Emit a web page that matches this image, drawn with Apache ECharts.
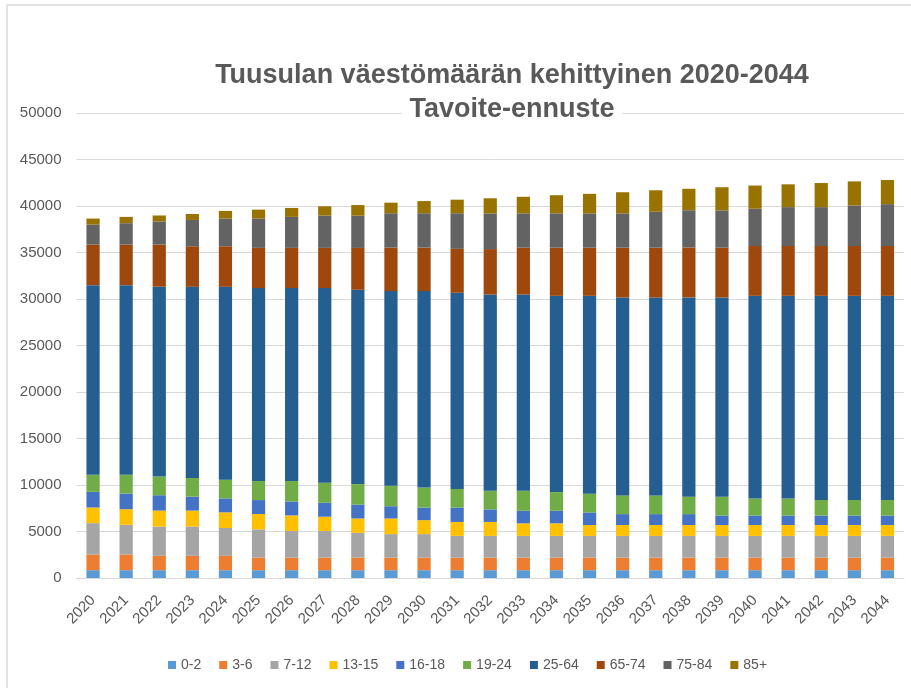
<!DOCTYPE html>
<html>
<head>
<meta charset="utf-8">
<script src="https://cdn.jsdelivr.net/npm/echarts@6/dist/echarts.min.js"></script>
<style>
html,body{margin:0;padding:0;background:#fff;}
#chart{width:911px;height:688px;}
</style>
</head>
<body>
<div id="chart"></div>
<script>
var years = ['2020','2021','2022','2023','2024','2025','2026','2027','2028','2029','2030','2031','2032','2033','2034','2035','2036','2037','2038','2039','2040','2041','2042','2043','2044'];
var seriesNames = ['0-2','3-6','7-12','13-15','16-18','19-24','25-64','65-74','75-84','85+'];
var yTicks = [0, 50000, 5000];

var a0_2   = [840,840,840,840,840,840,840,840,840,840,840,840,840,840,840,840,840,840,840,840,840,840,840,840,840];
var a3_6   = [1690,1690,1540,1540,1540,1350,1350,1350,1350,1350,1350,1350,1350,1350,1350,1350,1350,1350,1350,1350,1350,1350,1350,1350,1350];
var a7_12  = [3370,3190,3150,3150,3000,3040,2860,2860,2670,2530,2530,2340,2340,2340,2340,2340,2340,2340,2340,2340,2340,2340,2340,2340,2340];
var a13_15 = [1680,1680,1720,1720,1680,1650,1680,1540,1540,1680,1500,1500,1500,1350,1350,1170,1170,1170,1170,1170,1170,1170,1170,1170,1170];
var a16_18 = [1680,1680,1650,1500,1500,1500,1500,1500,1500,1320,1350,1540,1350,1350,1350,1350,1170,1170,1170,1020,1020,1020,1020,1020,1020];
var a19_24 = [1830,2010,2010,2010,2010,2050,2200,2160,2200,2200,2160,2010,2010,2160,2010,2010,2010,2010,1870,2010,1830,1830,1680,1680,1680];
var a25_64 = [20400,20400,20410,20550,20740,20740,20740,20920,20890,20930,21120,21090,21090,21090,21100,21280,21280,21280,21430,21430,21790,21790,21940,21940,21940];
var a65_74 = [4360,4360,4540,4360,4360,4330,4330,4330,4500,4680,4680,4720,4890,5040,5180,5180,5360,5360,5360,5360,5360,5360,5360,5360,5360];
var a75_84 = [2160,2300,2480,2830,2980,3150,3330,3470,3470,3690,3690,3830,3830,3690,3690,3690,3690,3860,4010,4010,4010,4180,4180,4360,4500];
var a85    = [640,680,640,640,820,960,960,1000,1140,1140,1310,1460,1630,1780,1950,2100,2270,2310,2310,2490,2490,2450,2590,2590,2590];

var colors = ['#5B9BD5','#ED7D31','#A5A5A5','#FFC000','#4472C4','#70AD47','#255E91','#9E480E','#636363','#997300'];
var allData = [a0_2,a3_6,a7_12,a13_15,a16_18,a19_24,a25_64,a65_74,a75_84,a85];

var FONT = 'Liberation Sans';
var chart = echarts.init(document.getElementById('chart'), null, {renderer:'canvas'});
var series = seriesNames.map(function(n,i){
  return {
    name: n, type: 'bar', stack: 'total', data: allData[i],
    barCategoryGap: '60%',
    itemStyle: {color: colors[i]},
    emphasis: {disabled: true}
  };
});
chart.setOption({
  animation: false,
  color: colors,
  graphic: [
    {type:'rect', shape:{x:7,y:5,width:1000,height:1000}, style:{fill:'none', stroke:'#d9d9d9', lineWidth:1.5}, silent:true},
    {type:'text', x:512, y:62, z:100, style:{text:'Tuusulan väestömäärän kehittyinen 2020-2044', font:'bold 27px "Liberation Sans"', fill:'#595959', textAlign:'center', textVerticalAlign:'top'}},
    {type:'text', x:512, y:94, z:100, style:{text:'Tavoite-ennuste', font:'bold 27px "Liberation Sans"', fill:'#595959', textAlign:'center', textVerticalAlign:'top', backgroundColor:'#ffffff', padding:[2,8,2,8]}}
  ],
  legend: {
    data: seriesNames, left: 163, top: 653,
    icon: 'rect', itemWidth: 8, itemHeight: 8, itemGap: 18,
    textStyle: {fontFamily: FONT, fontSize: 14, color: '#595959'}
  },
  grid: {left: 76.5, right: 7, top: 113, bottom: 110, containLabel: false},
  xAxis: {
    type: 'category', data: years,
    axisLine: {lineStyle: {color: '#d9d9d9', width: 1}},
    axisTick: {show: false},
    axisLabel: {rotate: 45, margin: 20, fontFamily: FONT, fontSize: 15, color: '#595959', interval: 0}
  },
  yAxis: {
    type: 'value', min: yTicks[0], max: yTicks[1], interval: yTicks[2],
    axisLine: {show: false}, axisTick: {show: false},
    splitLine: {lineStyle: {color: '#d9d9d9', width: 1}},
    axisLabel: {margin: 15, fontFamily: FONT, fontSize: 15, color: '#595959', formatter: function(v){ return String(v); }}
  },
  series: series
});
</script>
</body>
</html>
